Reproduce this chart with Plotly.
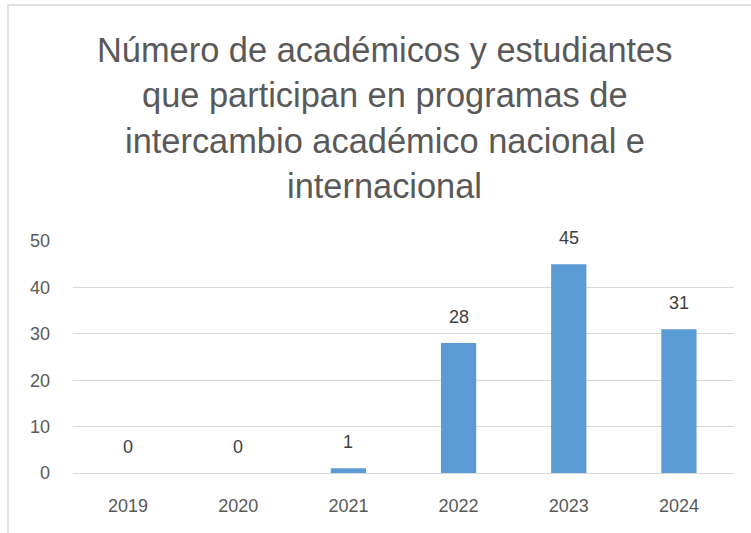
import plotly.graph_objects as go

# Datos
anios = ["2019", "2020", "2021", "2022", "2023", "2024"]
participantes = [0, 0, 1, 28, 45, 31]
titulo = [
    "Número de académicos y estudiantes",
    "que participan en programas de",
    "intercambio académico nacional e",
    "internacional",
]
ticks_y = [0, 10, 20, 30, 40, 50]

C_BAR = "#5B9BD5"
C_TEXT = "#595959"
C_GRID = "#D9D9D9"
FONT = "Liberation Sans, Arial, sans-serif"

fig = go.Figure(go.Bar(
    x=anios,
    y=participantes,
    width=0.32,
    marker=dict(color=C_BAR, line=dict(width=0)),
    hovertemplate="%{x}: %{y}<extra></extra>",
))

# etiquetas de datos sobre cada barra (x = indice de categoria)
for i, v in enumerate(participantes):
    fig.add_annotation(x=i, y=v, text=str(v), showarrow=False,
                       yshift=26, font=dict(size=18, color="#404040", family=FONT))

# titulo en cuatro lineas
for i, linea in enumerate(titulo):
    fig.add_annotation(xref="paper", yref="paper", x=0.5, y=1,
                       text=linea, showarrow=False, yanchor="middle",
                       yshift=241 - 50 - i * 45.3, xshift=-19,
                       font=dict(size=34.4, color=C_TEXT, family=FONT))

# borde del area del grafico
fig.add_shape(type="rect", xref="paper", yref="paper",
              x0=-65 / 661, x1=1.2, y0=-0.5, y1=(473 - 5) / 232,
              line=dict(color=C_GRID, width=1.5), layer="below")

fig.update_layout(
    width=751,
    height=533,
    margin=dict(l=73, r=17, t=241, b=60),
    paper_bgcolor="white",
    plot_bgcolor="white",
    showlegend=False,
    font=dict(family=FONT, color=C_TEXT, size=18),
    xaxis=dict(type="category", range=[-0.5, 5.5], showgrid=False, showline=True,
               linecolor=C_GRID, linewidth=1, ticks="", ticklabelstandoff=16,
               tickfont=dict(size=18, color=C_TEXT)),
    yaxis=dict(range=[0, 50], tickvals=ticks_y, gridcolor=C_GRID, gridwidth=1,
               zeroline=False, showline=False, ticks="", ticklabelstandoff=22,
               tickfont=dict(size=18, color=C_TEXT)),
)

fig.write_html("out.html", config={"displayModeBar": False},
               post_script="document.body.style.margin='0';")
